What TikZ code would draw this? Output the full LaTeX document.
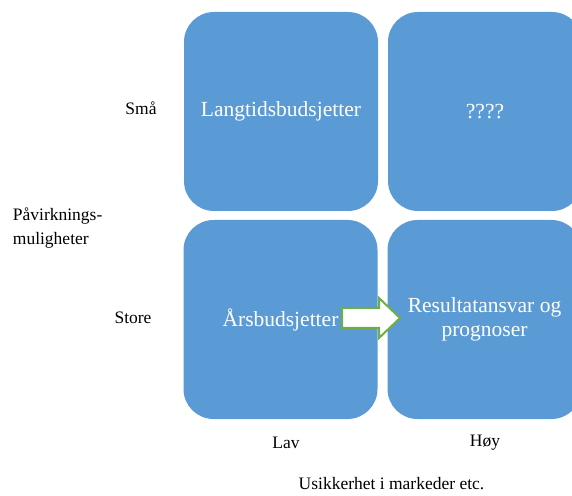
\documentclass[tikz,border=0pt]{standalone}
\usepackage{fontspec}
\setmainfont{Liberation Serif}
\definecolor{cellblue}{HTML}{5B9BD5}
\definecolor{arrowgreen}{HTML}{70AD47}
\begin{document}
\begin{tikzpicture}[x=1pt,y=1pt,
  cell/.style={draw=none, fill=cellblue, rounded corners=30pt, minimum width=194pt,
    minimum height=199pt, text=white, align=center,
    font=\fontsize{21.5}{24}\selectfont},
  axislabel/.style={text=black, font=\fontsize{17.5}{24}\selectfont, inner sep=0pt}]
\useasboundingbox (0,0) rectangle (572,495);
\begin{scope}
\clip (0,0) rectangle (572,495);
% the four cells of the matrix
\node[cell] (tl) at (281,383.5) {Langtidsbudsjetter};
\node[cell] (tr) at (485,383.5) {????};
\node[cell] (bl) at (280.5,175.5) {Årsbudsjetter};
\node[cell] (br) at (484.5,175.5) {Resultatansvar og\\prognoser};
\end{scope}
% block arrow from the yearly budget towards results/forecasts
\coordinate (as) at (342,177);
\draw[draw=arrowgreen, fill=white, line width=2pt, line join=miter]
  (as) ++(0,10) -- ++(37,0) -- ++(0,10) -- ++(21,-20) -- ++(-21,-20) -- ++(0,10)
  -- ++(-37,0) -- cycle;
% axis labels
\node[axislabel] (sma) at (141,387) {Små};
\node[axislabel] (store) at (133,177) {Store};
\node[axislabel, anchor=west, align=left] (paav) at (12.7,267) {Påvirknings-\\muligheter};
\node[axislabel] (lav) at (286,52) {Lav};
\node[axislabel] (hoy) at (485,52) {Høy};
\node[axislabel] (usik) at (391.5,11) {Usikkerhet i markeder etc.};
\end{tikzpicture}
\end{document}
